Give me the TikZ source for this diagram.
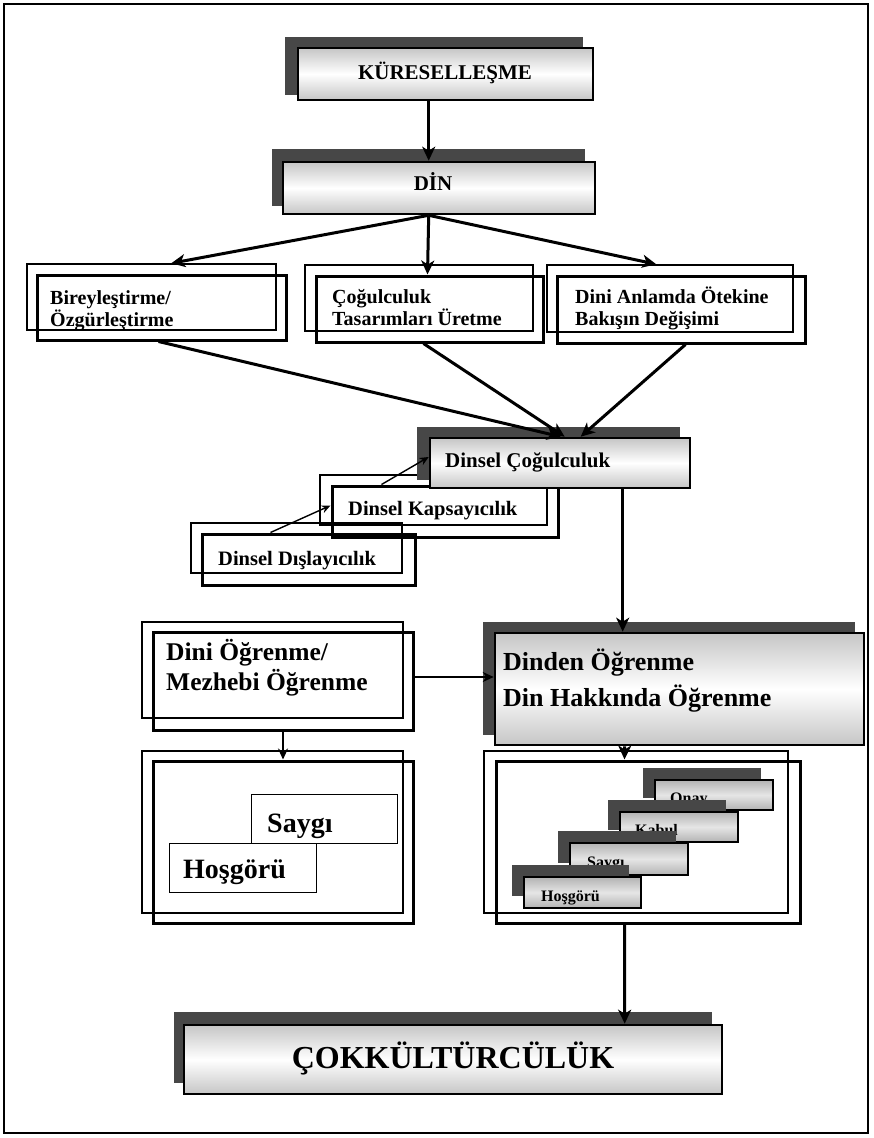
\documentclass[tikz,border=0pt]{standalone}
\usepackage{fontspec}
\setmainfont{Liberation Serif}
\usetikzlibrary{fit,arrows.meta}
\begin{document}
\begin{tikzpicture}[x=1pt,y=-1pt,
  shd/.style={fill=black!72, draw=none, inner sep=0pt, outer sep=0pt},
  gfront/.style={draw=black, line width=2.6pt, top color=gray!45, bottom color=gray!45, middle color=white, inner sep=0pt},
  sfront/.style={draw=black, line width=2pt, top color=gray!60, bottom color=gray!60, middle color=gray!20, inner sep=0pt},
  bk/.style={draw=black, line width=1.5pt, inner sep=0pt},
  fr/.style={draw=black, line width=3pt, inner sep=0pt},
  plain/.style={draw=black, line width=1pt, inner sep=0pt},
  lab/.style 2 args={font=\bfseries\fontsize{#1}{#2}\selectfont, inner sep=0pt, align=left},
  bigarr/.style={line width=3pt, -{Stealth[length=14pt,width=13pt,inset=4pt]}},
  tarr/.style={line width=1.4pt, -{Stealth[length=9pt,width=8pt]}},
  tarrb/.style={line width=2pt, -{Stealth[length=11pt,width=10pt]}},
]
\useasboundingbox (0,0) rectangle (873,1138);
\draw[line width=1.2pt] (4,4) rectangle (868,1133);

% KURESELLESME
\node[shd, fit={(285,37) (583,95)}] (ks) {};
\node[gfront, fit={(298,48) (593,100)}] (kf) {};
\node[lab={21}{23}, anchor=base] (kt) at (445,79) {KÜRESELLEŞME};

% DIN
\node[shd, fit={(272,149) (585,206)}] (ds) {};
\node[gfront, fit={(283,162) (595,214)}] (df) {};
\node[lab={21}{23}, anchor=base] (dt) at (433,190) {DİN};

\draw[bigarr] ([xshift=132pt]kf.south west) -- ([xshift=147pt]df.north west);

% row 2
\node[bk, fit={(27,264) (276,330)}] (b1b) {};
\node[fr, fit={(37,275) (286,340)}] (b1f) {};
\node[lab={20}{22}, anchor=base west] (b1t) at (50,326) {Bireyleştirme/\\Özgürleştirme};
\node[bk, fit={(305,265) (533,331)}] (b2b) {};
\node[fr, fit={(316,276) (543,342)}] (b2f) {};
\node[lab={20}{22}, anchor=base west] (b2t) at (332,325) {Çoğulculuk\\Tasarımları Üretme};
\node[bk, fit={(547,265) (793,332)}] (b3b) {};
\node[fr, fit={(557,276) (805,343)}] (b3f) {};
\node[lab={20}{22}, anchor=base west] (b3t) at (575,325) {Dini Anlamda Ötekine\\Bakışın Değişimi};

\draw[bigarr] ([xshift=147pt]df.south west) -- ([xshift=145pt]b1b.north west);
\draw[bigarr] ([xshift=147pt]df.south west) -- ([xshift=113pt]b2f.north west);
\draw[bigarr] ([xshift=147pt]df.south west) -- ([xshift=110pt]b3b.north west);

% stack
\node[bk, fit={(191,523) (402,573)}] (xlb) {};
\node[fr, fit={(202,534) (415,585)}] (xlf) {};
\node[lab={20.5}{22}, anchor=base west] (xlt) at (218,565) {Dinsel Dışlayıcılık};
\node[bk, fit={(320,475) (547,525)}] (kpb) {};
\node[fr, fit={(332,486) (558,537)}] (kpf) {};
\node[lab={20.5}{22}, anchor=base west] (kpt) at (348,515) {Dinsel Kapsayıcılık};
\node[shd, fit={(417,427) (680,480)}] (cgs) {};
\node[gfront, fit={(430,438) (690,488)}] (cgf) {};
\node[lab={21}{23}, anchor=base west] (cgt) at (445,467) {Dinsel Çoğulculuk};

\draw[bigarr] ([xshift=123pt]b1f.south west) -- ([xshift=132pt]cgf.north west);
\draw[bigarr] ([xshift=109pt]b2f.south west) -- ([xshift=136pt]cgf.north west);
\draw[bigarr] ([xshift=130pt]b3f.south west) -- ([xshift=152pt]cgf.north west);

\draw[tarr] ([xshift=70pt]xlf.north west) -- ([yshift=6pt]kpf.west);
\draw[tarr] ([xshift=51pt]kpf.north west) -- ([yshift=6pt]cgf.west);

% Dinden
\node[shd, fit={(483,622) (855,735)}] (dns) {};
\node[gfront, fit={(495,633) (864,745)}] (dnf) {};
\node[lab={26}{36}, anchor=base west] (dnt) at (503,706) {Dinden Öğrenme\\Din Hakkında Öğrenme};

\draw[bigarr] ([xshift=194pt]cgf.south west) -- ([xshift=129pt]dnf.north west);

% Dini Ogrenme
\node[bk, fit={(142,622) (403,718)}] (dob) {};
\node[fr, fit={(153,632) (413,730)}] (dof) {};
\node[lab={25.5}{30}, anchor=base west] (dot) at (166,690) {Dini Öğrenme/\\Mezhebi Öğrenme};

\draw[tarrb] ([yshift=4pt]dof.east) -- ([yshift=12pt]dnf.west);

% lower left
\node[bk, fit={(142,751) (403,913)}] (llb) {};
\node[fr, fit={(153,761) (413,923)}] (llf) {};
\node[plain, fit={(251,794) (397,843)}] (sgb) {};
\node[lab={28}{30}, anchor=base west] (sgt) at (267,832) {Saygı};
\node[plain, fill=white, fit={(169,843) (316,892)}] (hgb) {};
\node[lab={28}{30}, anchor=base west] (hgt) at (183,878) {Hoşgörü};

\draw[tarrb] (dof.south) -- (llf.north);

% lower right
\node[bk, fit={(484,751) (788,913)}] (lrb) {};
\node[fr, fit={(496,761) (800,923)}] (lrf) {};
\node[shd, fit={(643,768) (761,798)}] (ons) {};
\node[sfront, fit={(655,780) (773,810)}] (onf) {};
\node[lab={16}{18}, anchor=base west] (ont) at (670,803) {Onay};
\node[shd, fit={(608,800) (726,830)}] (kbs) {};
\node[sfront, fit={(620,812) (738,842)}] (kbf) {};
\node[lab={16}{18}, anchor=base west] (kbt) at (635,835) {Kabul};
\node[shd, fit={(558,831) (676,863)}] (sys) {};
\node[sfront, fit={(570,843) (688,875)}] (syf) {};
\node[lab={16}{18}, anchor=base west] (syt) at (587,867) {Saygı};
\node[shd, fit={(512,865) (629,896)}] (hss) {};
\node[sfront, fit={(524,877) (641,908)}] (hsf) {};
\node[lab={16}{18}, anchor=base west] (hst) at (541,901) {Hoşgörü};

\draw[bigarr] ([xshift=131pt]dnf.south west) -- ([xshift=130pt]lrf.north west);

% COKKULTURCULUK
\node[shd, fit={(174,1012) (712,1083)}] (cks) {};
\node[gfront, fit={(184,1025) (722,1094)}] (ckf) {};
\node[lab={32}{34}, anchor=base] (ckt) at (453,1068) {ÇOKKÜLTÜRCÜLÜK};

\draw[bigarr] ([xshift=130pt]lrf.south west) -- ([xshift=442pt]ckf.north west);
\end{tikzpicture}
\end{document}
